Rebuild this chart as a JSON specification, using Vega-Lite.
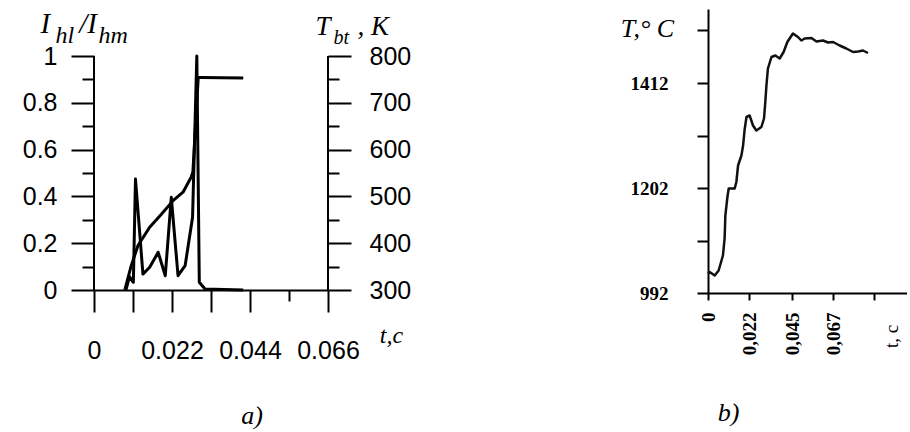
{
  "$schema": "https://vega.github.io/schema/vega-lite/v6.json",
  "background": "white",
  "padding": {"left": 22, "top": 9, "right": 0, "bottom": 4},
  "bounds": "flush",
  "spacing": 380,
  "config": {
    "view": {"stroke": null},
    "axis": {"grid": false, "domainColor": "black", "domainWidth": 2, "tickColor": "black", "tickWidth": 2, "labelColor": "black", "titleColor": "black", "labelOverlap": false, "labelFlush": false},
    "title": {"color": "black"}
  },
  "datasets": {
    "intensity": [
      {"t": 0.0090, "v": 0}, {"t": 0.0100, "v": 0.057}, {"t": 0.0111, "v": 0.033}, {"t": 0.0117, "v": 0.474},
      {"t": 0.0138, "v": 0.068}, {"t": 0.0157, "v": 0.097}, {"t": 0.0181, "v": 0.161}, {"t": 0.0201, "v": 0.061},
      {"t": 0.0218, "v": 0.396}, {"t": 0.0237, "v": 0.061}, {"t": 0.0257, "v": 0.104}, {"t": 0.0278, "v": 0.311},
      {"t": 0.0290, "v": 1.0}, {"t": 0.0297, "v": 0.033}, {"t": 0.0313, "v": 0.004}, {"t": 0.0421, "v": 0}
    ],
    "temperature": [
      {"t": 0.0087, "temp": 300}, {"t": 0.0105, "temp": 352}, {"t": 0.0124, "temp": 395}, {"t": 0.0157, "temp": 434},
      {"t": 0.0190, "temp": 462}, {"t": 0.0223, "temp": 491}, {"t": 0.0251, "temp": 509}, {"t": 0.0274, "temp": 541},
      {"t": 0.0279, "temp": 553}, {"t": 0.0294, "temp": 754}, {"t": 0.0301, "temp": 754}, {"t": 0.0421, "temp": 753}
    ],
    "profile": [
      {"t": 0.0000, "temp": 1031}, {"t": 0.0009, "temp": 1034}, {"t": 0.0036, "temp": 1027}, {"t": 0.0057, "temp": 1037},
      {"t": 0.0080, "temp": 1067}, {"t": 0.0089, "temp": 1101}, {"t": 0.0093, "temp": 1147}, {"t": 0.0104, "temp": 1184},
      {"t": 0.0111, "temp": 1201}, {"t": 0.0143, "temp": 1201}, {"t": 0.0152, "temp": 1214}, {"t": 0.0161, "temp": 1247},
      {"t": 0.0179, "temp": 1267}, {"t": 0.0188, "temp": 1287}, {"t": 0.0196, "temp": 1318}, {"t": 0.0206, "temp": 1344},
      {"t": 0.0223, "temp": 1347}, {"t": 0.0241, "temp": 1327}, {"t": 0.0259, "temp": 1317}, {"t": 0.0286, "temp": 1324},
      {"t": 0.0300, "temp": 1341}, {"t": 0.0307, "temp": 1374}, {"t": 0.0313, "temp": 1407}, {"t": 0.0321, "temp": 1441},
      {"t": 0.0340, "temp": 1464}, {"t": 0.0361, "temp": 1467}, {"t": 0.0384, "temp": 1461}, {"t": 0.0405, "temp": 1474},
      {"t": 0.0425, "temp": 1494}, {"t": 0.0455, "temp": 1511}, {"t": 0.0482, "temp": 1504}, {"t": 0.0500, "temp": 1497},
      {"t": 0.0518, "temp": 1501}, {"t": 0.0554, "temp": 1502}, {"t": 0.0581, "temp": 1495}, {"t": 0.0616, "temp": 1497},
      {"t": 0.0643, "temp": 1493}, {"t": 0.0670, "temp": 1494}, {"t": 0.0705, "temp": 1487}, {"t": 0.0741, "temp": 1481},
      {"t": 0.0777, "temp": 1474}, {"t": 0.0804, "temp": 1475}, {"t": 0.0830, "temp": 1477}, {"t": 0.0857, "temp": 1472}
    ]
  },
  "hconcat": [
    {
      "width": 234,
      "height": 281,
      "title": {"text": "a)", "orient": "bottom", "anchor": "middle", "dx": 41, "offset": 40, "font": "Liberation Serif", "fontStyle": "italic", "fontWeight": "normal", "fontSize": 26},
      "resolve": {"scale": {"y": "independent"}, "axis": {"x": "independent", "y": "independent"}},
      "layer": [
        {
          "data": {"name": "intensity"},
          "mark": {"type": "line", "color": "black", "strokeWidth": 3, "strokeJoin": "round"},
          "encoding": {
            "x": {"field": "t", "type": "quantitative", "scale": {"domain": [0, 0.066], "nice": false, "zero": false},
              "axis": {"orient": "bottom", "values": [0, 0.011, 0.022, 0.033, 0.044, 0.055, 0.066],
                "tickSize": {"condition": {"test": "abs(datum.value - 0.055) < 0.001", "value": 11}, "value": 22},
                "labelPadding": 26, "labelFont": "Liberation Sans", "labelFontSize": 25,
                "labelExpr": "round(datum.value*1000) % 22 == 0 ? format(datum.value, '~g') : ''",
                "title": "t,c", "titleX": 297, "titleY": 45, "titleAlign": "center", "titleBaseline": "middle",
                "titleFont": "Liberation Serif", "titleFontStyle": "italic", "titleFontWeight": "normal", "titleFontSize": 24}},
            "y": {"field": "v", "type": "quantitative", "scale": {"domain": [0, 1.2009], "nice": false, "zero": false},
              "axis": {"orient": "left", "domain": false, "values": [0, 0.1, 0.2, 0.3, 0.4, 0.5, 0.6, 0.7, 0.8, 0.9, 1],
                "tickSize": {"condition": {"test": "round(datum.value*10) % 2 == 0", "value": 23}, "value": 12},
                "labelPadding": 14, "labelFont": "Liberation Sans", "labelFontSize": 25,
                "labelExpr": "round(datum.value*10) % 2 == 0 ? format(datum.value, '~g') : ''",
                "title": "I\u00a0\u00a0\u00a0\u00a0/I", "titleAngle": 0, "titleX": -54, "titleY": 23, "titleAlign": "left", "titleBaseline": "alphabetic",
                "titleFont": "Liberation Serif", "titleFontStyle": "italic", "titleFontWeight": "normal", "titleFontSize": 29}}
          }
        },
        {
          "data": {"name": "temperature"},
          "mark": {"type": "line", "color": "black", "strokeWidth": 3, "strokeJoin": "round"},
          "encoding": {
            "x": {"field": "t", "type": "quantitative", "scale": {"domain": [0, 0.066], "nice": false, "zero": false},
              "axis": {"orient": "top", "domain": false, "ticks": false, "labels": false,
                "title": "bt", "titleX": 239, "titleY": 34, "titleAlign": "left", "titleBaseline": "alphabetic",
                "titleFont": "Liberation Serif", "titleFontStyle": "italic", "titleFontWeight": "normal", "titleFontSize": 20}},
            "y": {"field": "temp", "type": "quantitative", "scale": {"domain": [300, 900.45], "nice": false, "zero": false},
              "axis": {"orient": "right", "domain": false, "values": [300, 350, 400, 450, 500, 550, 600, 650, 700, 750, 800],
                "tickSize": {"condition": {"test": "datum.value % 100 == 0", "value": 23}, "value": 11},
                "labelPadding": 18, "labelFont": "Liberation Sans", "labelFontSize": 25,
                "labelExpr": "datum.value % 100 == 0 ? '' + datum.value : ''",
                "title": "T\u00a0\u00a0\u00a0\u00a0, K", "titleAngle": 0, "titleX": -13, "titleY": 25, "titleAlign": "left", "titleBaseline": "alphabetic",
                "titleFont": "Liberation Serif", "titleFontStyle": "italic", "titleFontWeight": "normal", "titleFontSize": 27}}
          }
        },
        {
          "data": {"values": [{}]},
          "mark": {"type": "rule", "color": "black", "strokeWidth": 2},
          "encoding": {
            "x": {"datum": 0, "type": "quantitative",
              "axis": {"orient": "top", "domain": false, "ticks": false, "labels": false,
                "title": "hl", "titleX": -39, "titleY": 33, "titleAlign": "left", "titleBaseline": "alphabetic",
                "titleFont": "Liberation Serif", "titleFontStyle": "italic", "titleFontWeight": "normal", "titleFontSize": 24}},
            "y": {"datum": 0, "type": "quantitative", "axis": null, "scale": {"domain": [0, 1.2009], "nice": false, "zero": false}},
            "y2": {"datum": 1}
          }
        },
        {
          "data": {"values": [{}]},
          "mark": {"type": "rule", "color": "black", "strokeWidth": 2},
          "encoding": {
            "x": {"datum": 0.066, "type": "quantitative",
              "axis": {"orient": "top", "domain": false, "ticks": false, "labels": false,
                "title": "hm", "titleX": 4, "titleY": 33, "titleAlign": "left", "titleBaseline": "alphabetic",
                "titleFont": "Liberation Serif", "titleFontStyle": "italic", "titleFontWeight": "normal", "titleFontSize": 24}},
            "y": {"datum": 0, "type": "quantitative", "axis": null, "scale": {"domain": [0, 1.2009], "nice": false, "zero": false}},
            "y2": {"datum": 1}
          }
        }
      ]
    },
    {
      "width": 199,
      "height": 284,
      "data": {"name": "profile"},
      "title": {"text": "b)", "orient": "bottom", "anchor": "middle", "dx": -79, "offset": 45, "font": "Liberation Serif", "fontStyle": "italic", "fontWeight": "normal", "fontSize": 26},
      "mark": {"type": "line", "color": "#111111", "strokeWidth": 2.5, "strokeJoin": "round"},
      "encoding": {
        "x": {"field": "t", "type": "quantitative", "scale": {"domain": [0, 0.1066], "nice": false, "zero": false},
          "axis": {"values": [0, 0.022, 0.045, 0.067, 0.089], "tickSize": 7, "labelAngle": -90, "labelPadding": 12,
            "labelFont": "Liberation Serif", "labelFontWeight": "bold", "labelFontSize": 19,
            "labelExpr": "datum.value > 0.08 ? '' : replace(format(datum.value, '.3~f'), '.', ',')",
            "title": "t, c", "titleAngle": -90, "titleX": 183, "titleY": 43, "titleAlign": "center", "titleBaseline": "middle",
            "titleFont": "Liberation Serif", "titleFontWeight": "normal", "titleFontSize": 19}},
        "y": {"field": "temp", "type": "quantitative", "scale": {"domain": [992, 1560], "nice": false, "zero": false},
          "axis": {"values": [992, 1097, 1202, 1307, 1412, 1517], "tickSize": 11, "labelPadding": 29,
            "labelFont": "Liberation Serif", "labelFontWeight": "bold", "labelFontSize": 19,
            "labelExpr": "datum.value == 992 || datum.value == 1202 || datum.value == 1412 ? '' + datum.value : ''",
            "title": "T,\u00b0 C", "titleAngle": 0, "titleX": -61, "titleY": 19, "titleAlign": "center", "titleBaseline": "middle",
            "titleFont": "Liberation Serif", "titleFontStyle": "italic", "titleFontWeight": "normal", "titleFontSize": 26}}
      }
    }
  ]
}
